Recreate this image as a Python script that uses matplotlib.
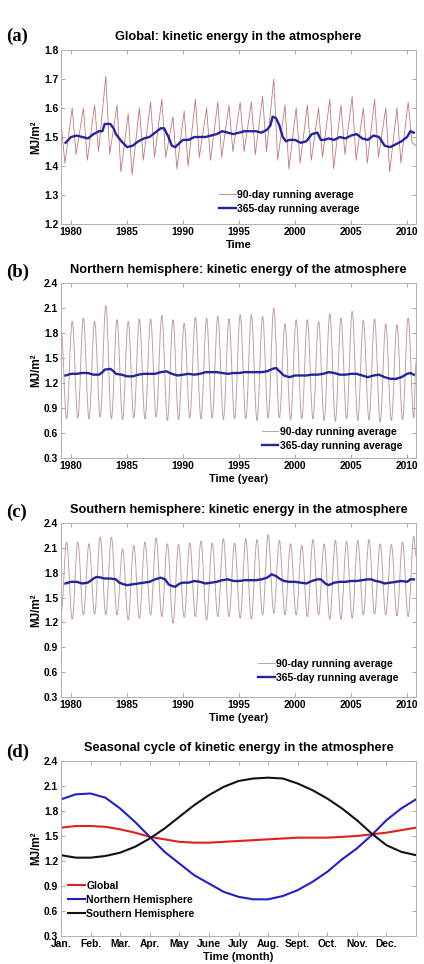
import matplotlib
matplotlib.use('Agg')
import matplotlib.pyplot as plt
import numpy as np
from matplotlib.path import Path
from matplotlib.patches import PathPatch

plt.rcParams['font.family'] = ['Liberation Sans', 'DejaVu Sans']
plt.rcParams['font.weight'] = 'bold'

# ---- (a) Global ----------------------------------------------------------
glbPeakYears = np.arange(1980, 2011)          # peaks around Feb
glbPeak = [1.60, 1.60, 1.61, 1.71, 1.61, 1.58, 1.60, 1.62, 1.63, 1.57, 1.59,
           1.63, 1.60, 1.62, 1.61, 1.62, 1.62, 1.64, 1.70, 1.61, 1.60, 1.61,
           1.60, 1.63, 1.61, 1.64, 1.60, 1.63, 1.60, 1.60, 1.62]
glbTroughYears = np.arange(1979, 2011)        # troughs around June
glbTrough = [1.41, 1.44, 1.42, 1.45, 1.44, 1.38, 1.37, 1.42, 1.43, 1.43, 1.39,
             1.40, 1.43, 1.42, 1.43, 1.45, 1.45, 1.44, 1.45, 1.42, 1.39, 1.41,
             1.42, 1.43, 1.39, 1.44, 1.42, 1.41, 1.43, 1.38, 1.41, 1.48]
glbEnds = [1.55, 1.47]

glbYearT = [1979.5, 1980.0, 1980.5, 1981.0, 1981.5, 1982.0, 1982.5, 1982.8, 1983.0, 1983.5,
            1983.8, 1984.0, 1984.5, 1985.0, 1985.5, 1986.0, 1986.5, 1987.0, 1987.5, 1988.0,
            1988.3, 1988.7, 1989.0, 1989.3, 1989.7, 1990.0, 1990.5, 1991.0, 1991.5, 1992.0,
            1992.5, 1993.0, 1993.5, 1994.0, 1994.5, 1995.0, 1995.5, 1996.0, 1996.5, 1997.0,
            1997.5, 1997.8, 1998.0, 1998.3, 1998.6, 1998.9, 1999.2, 1999.5, 2000.0, 2000.5,
            2001.0, 2001.5, 2002.0, 2002.3, 2002.6, 2003.0, 2003.5, 2004.0, 2004.5, 2005.0,
            2005.5, 2006.0, 2006.5, 2007.0, 2007.5, 2008.0, 2008.5, 2009.0, 2009.5, 2010.0,
            2010.3, 2010.6]
glbYear = [1.48, 1.50, 1.505, 1.50, 1.495, 1.51, 1.52, 1.52, 1.545, 1.545,
           1.53, 1.51, 1.485, 1.465, 1.47, 1.485, 1.495, 1.50, 1.515, 1.53,
           1.53, 1.50, 1.47, 1.465, 1.48, 1.49, 1.49, 1.50, 1.50, 1.50,
           1.505, 1.51, 1.52, 1.515, 1.51, 1.515, 1.52, 1.52, 1.52, 1.515,
           1.525, 1.54, 1.57, 1.565, 1.54, 1.50, 1.485, 1.49, 1.49, 1.48,
           1.485, 1.51, 1.515, 1.49, 1.49, 1.495, 1.49, 1.50, 1.495, 1.505,
           1.51, 1.495, 1.49, 1.505, 1.50, 1.47, 1.465, 1.475, 1.485, 1.50,
           1.52, 1.515]

# ---- (b) Northern hemisphere ---------------------------------------------
nhPeakYears = np.arange(1980, 2011)
nhPeak = [1.94, 1.98, 1.94, 2.13, 1.96, 1.94, 1.97, 1.97, 2.01, 1.96, 1.92,
          1.99, 1.98, 2.00, 1.97, 2.02, 2.02, 2.00, 2.10, 1.91, 1.96, 1.96,
          1.94, 2.03, 1.98, 2.06, 1.95, 1.97, 1.91, 1.90, 1.98]
nhTroughYears = np.arange(1979, 2011)
nhTrough = [0.77, 0.78, 0.77, 0.79, 0.77, 0.76, 0.78, 0.77, 0.79, 0.75, 0.76,
            0.78, 0.77, 0.78, 0.76, 0.77, 0.77, 0.75, 0.78, 0.78, 0.76, 0.77,
            0.77, 0.75, 0.74, 0.77, 0.75, 0.76, 0.73, 0.75, 0.76, 0.78]
nhEnds = [1.86, 1.45]

nhYearT = [1979.5, 1980.0, 1980.5, 1981.0, 1981.5, 1982.0, 1982.5, 1982.8, 1983.0, 1983.5,
           1983.8, 1984.0, 1984.5, 1985.0, 1985.5, 1986.0, 1986.5, 1987.0, 1987.5, 1988.0,
           1988.5, 1989.0, 1989.5, 1990.0, 1990.5, 1991.0, 1991.5, 1992.0, 1992.5, 1993.0,
           1993.5, 1994.0, 1994.5, 1995.0, 1995.5, 1996.0, 1996.5, 1997.0, 1997.5, 1998.0,
           1998.3, 1998.7, 1999.0, 1999.5, 2000.0, 2000.5, 2001.0, 2001.5, 2002.0, 2002.5,
           2003.0, 2003.5, 2004.0, 2004.5, 2005.0, 2005.5, 2006.0, 2006.5, 2007.0, 2007.5,
           2008.0, 2008.5, 2009.0, 2009.5, 2010.0, 2010.3, 2010.6]
nhYear = [1.29, 1.31, 1.31, 1.32, 1.32, 1.30, 1.30, 1.33, 1.36, 1.37,
          1.34, 1.31, 1.30, 1.28, 1.28, 1.30, 1.31, 1.31, 1.31, 1.33,
          1.34, 1.31, 1.29, 1.30, 1.31, 1.30, 1.31, 1.33, 1.33, 1.33,
          1.32, 1.31, 1.32, 1.32, 1.33, 1.33, 1.33, 1.33, 1.34, 1.37,
          1.38, 1.33, 1.29, 1.27, 1.29, 1.29, 1.29, 1.30, 1.30, 1.31,
          1.33, 1.32, 1.30, 1.30, 1.31, 1.31, 1.29, 1.27, 1.29, 1.30,
          1.27, 1.25, 1.25, 1.27, 1.31, 1.32, 1.30]

# ---- (c) Southern hemisphere ---------------------------------------------
shPeakYears = np.arange(1979, 2011)           # peaks around August
shPeak = [2.17, 2.17, 2.15, 2.23, 2.23, 2.09, 2.13, 2.17, 2.22, 2.15, 2.14,
          2.16, 2.18, 2.16, 2.21, 2.16, 2.21, 2.20, 2.26, 2.19, 2.15, 2.13,
          2.20, 2.15, 2.19, 2.18, 2.19, 2.20, 2.15, 2.14, 2.17, 2.24]
shTroughYears = np.arange(1980, 2011)
shTrough = [1.24, 1.29, 1.30, 1.29, 1.29, 1.23, 1.25, 1.29, 1.27, 1.19, 1.26,
            1.27, 1.23, 1.27, 1.27, 1.25, 1.24, 1.29, 1.31, 1.29, 1.29, 1.27,
            1.29, 1.24, 1.24, 1.25, 1.29, 1.30, 1.29, 1.28, 1.27]
shEnds = [1.30, 2.00]

shYearT = [1979.5, 1980.0, 1980.5, 1981.0, 1981.5, 1982.0, 1982.3, 1982.7, 1983.0, 1983.5,
           1984.0, 1984.3, 1984.7, 1985.0, 1985.5, 1986.0, 1986.5, 1987.0, 1987.5, 1988.0,
           1988.4, 1988.7, 1989.0, 1989.3, 1989.7, 1990.0, 1990.5, 1991.0, 1991.5, 1992.0,
           1992.5, 1993.0, 1993.5, 1994.0, 1994.5, 1995.0, 1995.5, 1996.0, 1996.5, 1997.0,
           1997.5, 1997.9, 1998.3, 1998.6, 1999.0, 1999.5, 2000.0, 2000.5, 2001.0, 2001.5,
           2002.0, 2002.3, 2002.7, 2003.0, 2003.5, 2004.0, 2004.5, 2005.0, 2005.5, 2006.0,
           2006.5, 2006.8, 2007.2, 2007.6, 2008.0, 2008.5, 2009.0, 2009.5, 2010.0, 2010.3,
           2010.6]
shYear = [1.67, 1.69, 1.69, 1.67, 1.68, 1.73, 1.75, 1.74, 1.73, 1.73,
          1.72, 1.68, 1.66, 1.65, 1.66, 1.67, 1.68, 1.69, 1.72, 1.74,
          1.72, 1.66, 1.64, 1.63, 1.67, 1.68, 1.68, 1.70, 1.69, 1.67,
          1.68, 1.69, 1.71, 1.72, 1.70, 1.70, 1.71, 1.71, 1.71, 1.72,
          1.74, 1.78, 1.76, 1.73, 1.70, 1.69, 1.69, 1.68, 1.67, 1.70,
          1.72, 1.72, 1.67, 1.65, 1.68, 1.69, 1.69, 1.70, 1.70, 1.71,
          1.72, 1.72, 1.70, 1.69, 1.67, 1.68, 1.69, 1.70, 1.69, 1.72,
          1.72]

# ---- (d) Seasonal cycle ---------------------------------------------------
months = ['Jan.', 'Feb.', 'Mar.', 'Apr.', 'May', 'June', 'July', 'Aug.',
          'Sept.', 'Oct.', 'Nov.', 'Dec.']
seasonT = [0, 0.5, 1, 1.5, 2, 2.5, 3, 3.5, 4, 4.5, 5, 5.5, 6, 6.5, 7, 7.5, 8,
           8.5, 9, 9.5, 10, 10.5, 11, 11.5, 12]
seasonGlb = [1.60, 1.62, 1.62, 1.61, 1.58, 1.54, 1.49, 1.46, 1.43, 1.42, 1.42,
             1.43, 1.44, 1.45, 1.46, 1.47, 1.48, 1.48, 1.48, 1.49, 1.50, 1.52,
             1.54, 1.57, 1.60]
seasonNH = [1.94, 2.00, 2.01, 1.96, 1.83, 1.67, 1.49, 1.31, 1.17, 1.03, 0.93,
            0.83, 0.77, 0.74, 0.74, 0.78, 0.85, 0.95, 1.07, 1.22, 1.35, 1.51,
            1.69, 1.83, 1.94]
seasonSH = [1.27, 1.24, 1.24, 1.26, 1.30, 1.37, 1.47, 1.59, 1.73, 1.87, 1.99,
            2.09, 2.16, 2.19, 2.20, 2.19, 2.13, 2.05, 1.95, 1.83, 1.69, 1.53,
            1.39, 1.31, 1.27]


def zigzag(firstYears, firstVals, firstOff, secondYears, secondVals, secondOff, ends):
  # merge the two extremes per year into one time-ordered series
  t = np.concatenate([[1979.1], np.asarray(firstYears) + firstOff,
                      np.asarray(secondYears) + secondOff, [2010.8]])
  v = np.concatenate([[ends[0]], firstVals, secondVals, [ends[1]]])
  idx = np.argsort(t)
  return t[idx], v[idx]


def smoothPath(t, v):
  # cubic segments with flat tangents at each extreme (drawn by the path renderer)
  verts = [(t[0], v[0])]
  codes = [Path.MOVETO]
  for k in range(1, len(t)):
    d = t[k] - t[k - 1]
    verts += [(t[k - 1] + 0.364 * d, v[k - 1]), (t[k] - 0.364 * d, v[k]), (t[k], v[k])]
    codes += [Path.CURVE4] * 3
  return Path(verts, codes)


def styleAx(ax, ylim, yticks):
  ax.set_ylim(*ylim)
  ax.set_yticks(yticks)
  ax.tick_params(direction='in', top=True, right=True, length=3, width=0.6,
                 color='#999999', labelsize=7.4, pad=2)
  for s in ax.spines.values():
    s.set_color('#b0b0b0')
    s.set_linewidth(0.7)
  ax.set_ylabel('MJ/m²', fontsize=8.4, fontweight='bold', labelpad=1)
  ax.yaxis.set_major_formatter(matplotlib.ticker.FormatStrFormatter('%.1f'))
  for lab in ax.get_xticklabels() + ax.get_yticklabels():
    lab.set_fontweight('bold')


fig = plt.figure(figsize=(4.24, 9.64), dpi=100, facecolor='w')
W, H = 424.0, 964.0
L, R = 61, 416
tops = [50, 283, 523, 761]
bots = [224, 458, 697, 936]
letterY = [36, 272, 512, 752]
axs = [fig.add_axes([L / W, 1 - b / H, (R - L) / W, (b - t) / H]) for t, b in zip(tops, bots)]

titles = ['Global: kinetic energy in the atmosphere',
          'Northern hemisphere: kinetic energy of the atmosphere',
          'Southern hemisphere: kinetic energy in the atmosphere',
          'Seasonal cycle of kinetic energy in the atmosphere']
letters = ['(a)', '(b)', '(c)', '(d)']
xlabels = ['Time', 'Time (year)', 'Time (year)', 'Time (month)']
legLoc = [(0.445, 0.195), (0.565, 0.177), (0.555, 0.22), (0.02, 0.315)]

series = [
  (zigzag(glbTroughYears, glbTrough, 0.45, glbPeakYears, glbPeak, 0.1, glbEnds), (glbYearT, glbYear)),
  (zigzag(nhTroughYears, nhTrough, 0.6, nhPeakYears, nhPeak, 0.1, nhEnds), (nhYearT, nhYear)),
  (zigzag(shPeakYears, shPeak, 0.6, shTroughYears, shTrough, 0.1, shEnds), (shYearT, shYear)),
]

for i, ax in enumerate(axs[:3]):
  (t90, v90), (t365, v365) = series[i]
  if i == 0:
    ax.plot(t90, v90, color='#c07878', lw=0.6, label='90-day running average')
  else:
    ax.add_patch(PathPatch(smoothPath(t90, v90), fill=False, edgecolor='#c4a0a0',
                           lw=0.7, transform=ax.transData))
    ax.plot([], [], color='#c4a0a0', lw=0.7, label='90-day running average')
  ax.plot(t365, v365, color='#2424a0', lw=1.7, label='365-day running average')
  ax.set_xlim(1979.1, 2010.8)
  ax.set_xticks(np.arange(1980, 2011, 5))
  if i == 0:
    styleAx(ax, (1.2, 1.8), np.arange(1.2, 1.81, 0.1))
  else:
    styleAx(ax, (0.3, 2.4), np.arange(0.3, 2.41, 0.3))

ax = axs[3]
ax.plot(seasonT, seasonGlb, color='#e02020', lw=1.5, label='Global')
ax.plot(seasonT, seasonNH, color='#2020c8', lw=1.5, label='Northern Hemisphere')
ax.plot(seasonT, seasonSH, color='#111111', lw=1.5, label='Southern Hemisphere')
ax.set_xlim(0, 12)
ax.set_xticks(np.arange(12))
ax.set_xticklabels(months)
styleAx(ax, (0.3, 2.4), np.arange(0.3, 2.41, 0.3))

for i, ax in enumerate(axs):
  ax.set_title(titles[i], fontsize=9.2, fontweight='bold', pad=7)
  ax.set_xlabel(xlabels[i], fontsize=8, fontweight='bold', labelpad=2)
  ax.legend(loc='upper left', bbox_to_anchor=legLoc[i], frameon=False,
            handlelength=1.6, handletextpad=0.15,
            labelspacing=0.38, borderaxespad=0, borderpad=0,
            prop={'weight': 'bold', 'size': 7.5})
  fig.text(6 / W, 1 - letterY[i] / H, letters[i], fontsize=13.5,
           fontweight='bold', family='Liberation Serif', va='center', ha='left')

fig.savefig('out.png', dpi=100, facecolor='w')
